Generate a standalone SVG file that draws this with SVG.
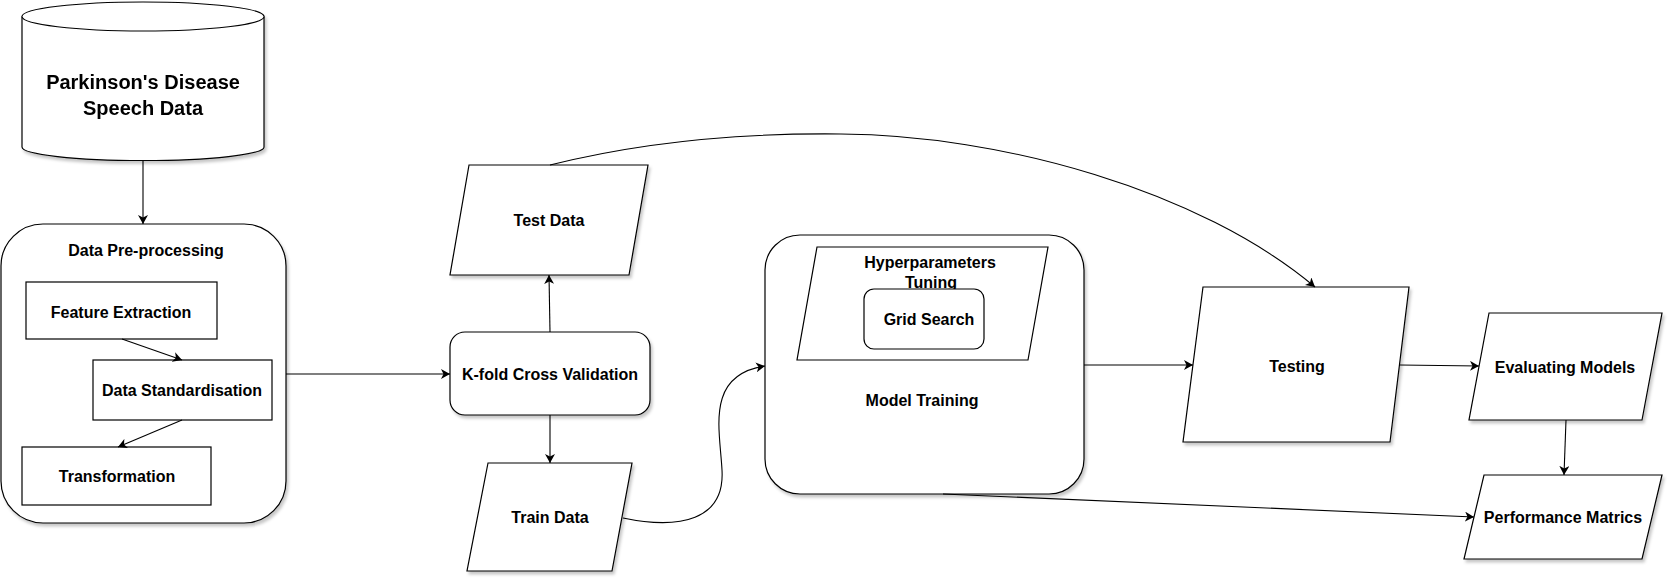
<svg xmlns="http://www.w3.org/2000/svg" width="1674" height="583" viewBox="0 0 1674 583">
<defs>
<filter id="sh" x="-10%" y="-10%" width="130%" height="130%">
<feDropShadow dx="2" dy="3" stdDeviation="1.5" flood-color="#000" flood-opacity="0.22"/>
</filter>
<marker id="arr" markerUnits="userSpaceOnUse" markerWidth="10" markerHeight="10" refX="9" refY="5" orient="auto" viewBox="0 0 10 10">
<path d="M0,0 L9,5 L0,10 L2.5,5 Z" fill="#000"/>
</marker>
</defs>
<style>
.s{fill:#fff;stroke:#000;stroke-width:1.2}
.t{font-family:"Liberation Sans",Arial,sans-serif;font-weight:bold;font-size:16px;fill:#000;text-anchor:middle}
.big{font-size:20px}
.e{fill:none;stroke:#000;stroke-width:1.1;marker-end:url(#arr)}
</style>
<rect width="1674" height="583" fill="#fff"/>

<g id="cylinder" filter="url(#sh)">
<path class="s" d="M22,16.5 A121,14.5 0 0 1 264,16.5 L264,147 A121,13.5 0 0 1 22,147 Z"/>
<path class="s" d="M22,16.5 A121,14.5 0 0 0 264,16.5" fill="none"/>
<text class="t big" x="143" y="89">Parkinson's Disease</text>
<text class="t big" x="143" y="115">Speech Data</text>
</g>

<g id="data-preprocessing">
<rect class="s" filter="url(#sh)" x="1" y="224" width="285" height="299" rx="42"/>
<text class="t" x="146" y="256">Data Pre-processing</text>
</g>
<g id="feature-extraction">
<rect class="s" x="26" y="282" width="191" height="57"/>
<text class="t" x="121" y="318">Feature Extraction</text>
</g>
<g id="data-standardisation">
<rect class="s" x="93" y="360" width="179" height="60"/>
<text class="t" x="182" y="396">Data Standardisation</text>
</g>
<g id="transformation">
<rect class="s" x="22" y="447" width="189" height="58"/>
<text class="t" x="117" y="482">Transformation</text>
</g>

<g id="kfold">
<rect class="s" filter="url(#sh)" x="450" y="332" width="200" height="83" rx="15"/>
<text class="t" x="550" y="380">K-fold Cross Validation</text>
</g>
<g id="test-data">
<polygon class="s" filter="url(#sh)" points="469,165 648,165 629,275 450,275"/>
<text class="t" x="549" y="226">Test Data</text>
</g>
<g id="train-data">
<polygon class="s" filter="url(#sh)" points="488,463 632,463 612,571 467,571"/>
<text class="t" x="550" y="523">Train Data</text>
</g>

<g id="model-training">
<rect class="s" filter="url(#sh)" x="765" y="235" width="319" height="259" rx="35"/>
<text class="t" x="922" y="406">Model Training</text>
</g>
<g id="hyperparameters">
<polygon class="s" points="817,247 1048,247 1028,360 797,360"/>
<text class="t" x="930" y="268">Hyperparameters</text>
<text class="t" x="931" y="288">Tuning</text>
</g>
<g id="grid-search">
<rect class="s" x="864" y="289" width="120" height="60" rx="10"/>
<text class="t" x="929" y="325">Grid Search</text>
</g>

<g id="testing">
<polygon class="s" filter="url(#sh)" points="1203,287 1409,287 1390,442 1183,442"/>
<text class="t" x="1297" y="372">Testing</text>
</g>
<g id="evaluating-models">
<polygon class="s" filter="url(#sh)" points="1489,313 1662,313 1642,420 1469,420"/>
<text class="t" x="1565" y="373">Evaluating Models</text>
</g>
<g id="performance-matrics">
<polygon class="s" filter="url(#sh)" points="1484,475 1662,475 1642,559 1464,559"/>
<text class="t" x="1563" y="523">Performance Matrics</text>
</g>

<g id="connectors">
<path class="e" d="M143,161 L143,224"/>
<path class="e" d="M122,339 L182,360"/>
<path class="e" d="M182,420 L118,447"/>
<path class="e" d="M286,374 L450,374"/>
<path class="e" d="M550,332 L549,275"/>
<path class="e" d="M550,415 L550,463"/>
<path class="e" d="M550,165 C650,140 750,133 841,134 C1000,135 1200,190 1315,287"/>
<path class="e" d="M623,518 C680,530 725,520 722,470 C720,430 705,375 765,366"/>
<path class="e" d="M1084,365 L1193,365"/>
<path class="e" d="M1400,365 L1479,366"/>
<path class="e" d="M1566,420 L1564,475"/>
<path class="e" d="M943,494 L1474,517"/>
</g>
</svg>
